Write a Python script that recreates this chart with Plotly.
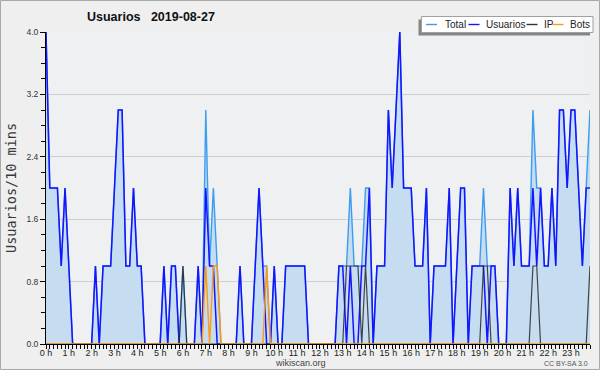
import plotly.graph_objects as go

# 10-minute slots of 2019-08-27 (144 values each)
usuarios = [4,2,2,2,1,2,1,0,0,0,0,0,
            0,1,0,1,1,1,2,3,3,1,1,2,
            1,1,0,0,0,0,0,1,0,1,1,0,
            0,0,0,0,1,0,2,1,1,0,0,0,
            0,0,0,1,0,0,0,1,2,1,0,0,
            1,0,0,1,1,1,1,1,1,0,0,0,
            0,0,0,0,0,1,1,0,1,0,0,1,
            1,2,0,1,1,1,3,2,3,4,2,2,
            2,1,1,1,2,0,1,1,1,1,2,0,
            1,2,2,0,1,1,1,1,0,1,1,0,
            0,0,2,1,2,1,1,1,2,1,2,1,
            1,2,1,3,3,2,3,3,2,1,2,2]

total = [4,2,2,2,1,2,1,0,0,0,0,0,
         0,1,0,1,1,1,2,3,3,1,1,2,
         1,1,0,0,0,0,0,1,0,1,1,0,
         1,0,0,0,1,0,3,1,2,1,0,0,
         0,0,0,1,0,0,0,1,2,1,1,0,
         1,0,0,1,1,1,1,1,1,0,0,0,
         0,0,0,0,0,1,1,1,2,1,1,1,
         2,2,0,1,1,1,3,2,3,4,2,2,
         2,1,1,1,2,0,1,1,1,1,2,0,
         1,2,2,0,1,1,1,2,1,1,1,0,
         0,0,2,1,2,1,1,1,3,2,2,1,
         1,2,1,3,3,2,3,3,2,1,2,3]

ip = [0,0,0,0,0,0,0,0,0,0,0,0,
      0,0,0,0,0,0,0,0,0,0,0,0,
      0,0,0,0,0,0,0,0,0,0,0,0,
      1,0,0,0,0,0,0,0,0,0,0,0,
      0,0,0,0,0,0,0,0,0,0,0,0,
      0,0,0,0,0,0,0,0,0,0,0,0,
      0,0,0,0,0,0,0,1,1,1,1,0,
      1,0,0,0,0,0,0,0,0,0,0,0,
      0,0,0,0,0,0,0,0,0,0,0,0,
      0,0,0,0,0,0,0,1,1,0,0,0,
      0,0,0,0,0,0,0,0,1,1,0,0,
      0,0,0,0,0,0,0,0,0,0,0,1]

bots = [0,0,0,0,0,0,0,0,0,0,0,0,
        0,0,0,0,0,0,0,0,0,0,0,0,
        0,0,0,0,0,0,0,0,0,0,0,0,
        0,0,0,0,0,0,1,0,1,1,0,0,
        0,0,0,0,0,0,0,0,0,0,1,0,
        0,0,0,0,0,0,0,0,0,0,0,0,
        0,0,0,0,0,0,0,0,0,0,0,0,
        0,0,0,0,0,0,0,0,0,0,0,0,
        0,0,0,0,0,0,0,0,0,0,0,0,
        0,0,0,0,0,0,0,0,0,0,0,0,
        0,0,0,0,0,0,0,0,0,0,0,0,
        0,0,0,0,0,0,0,0,0,0,0,0]

minutes = [10 * k for k in range(len(usuarios))]
hour_ticks = [60 * h for h in range(24)]
hour_labels = [f"{h} h" for h in range(24)]
y_ticks = [0.0, 0.8, 1.6, 2.4, 3.2, 4.0]

C_TOTAL = "#3d9cf0"
C_USR = "#1414ff"
C_IP = "rgba(40,40,40,0.85)"
C_BOTS = "#ff9a10"
FONT = "Liberation Sans, Arial, sans-serif"

W, H = 600, 370
ML, MR, MT, MB = 46, 10, 32, 26
PW, PH = W - ML - MR, H - MT - MB


def px(x):
    return (x - ML) / PW


def py(y):
    return (H - MB - y) / PH


fig = go.Figure()
fig.add_trace(go.Scatter(x=minutes, y=total, name="Total", mode="lines",
                         line=dict(color=C_TOTAL, width=1.4),
                         fill="tozeroy", fillcolor="#c6ddf1"))
fig.add_trace(go.Scatter(x=minutes, y=usuarios, name="Usuarios", mode="lines",
                         line=dict(color=C_USR, width=1.5)))
fig.add_trace(go.Scatter(x=minutes, y=ip, name="IP", mode="lines",
                         line=dict(color=C_IP, width=1.2)))
fig.add_trace(go.Scatter(x=minutes, y=bots, name="Bots", mode="lines",
                         line=dict(color=C_BOTS, width=1.4)))

shapes = []
annotations = []

# outer border
shapes.append(dict(type="rect", xref="paper", yref="paper",
                   x0=px(0.5), x1=px(599.5), y0=py(0.5), y1=py(369.5),
                   line=dict(color="#a8a8a8", width=1), layer="above"))

# manual legend box with shadow
lx0, lx1, ly0, ly1 = 421.5, 593, 16.5, 32.5
shapes.append(dict(type="rect", xref="paper", yref="paper",
                   x0=px(lx0 - 3), x1=px(lx1 - 3), y0=py(ly0 + 3), y1=py(ly1 + 3),
                   fillcolor="#858585", line=dict(width=0), layer="above"))
shapes.append(dict(type="rect", xref="paper", yref="paper",
                   x0=px(lx0), x1=px(lx1), y0=py(ly0), y1=py(ly1),
                   fillcolor="#ffffff", line=dict(color="#a0a0a0", width=1), layer="above"))
legend_items = [("Total", C_TOTAL, 426, 442.5), ("Usuarios", C_USR, 468.5, 484),
                ("IP", "#333333", 526.5, 541.5), ("Bots", C_BOTS, 552.5, 568)]
for name, col, lx, tx in legend_items:
    shapes.append(dict(type="line", xref="paper", yref="paper",
                       x0=px(lx), x1=px(lx + 11), y0=py(24.5), y1=py(24.5),
                       line=dict(color=col, width=1.4), layer="above"))
    annotations.append(dict(text=name, xref="paper", yref="paper",
                            x=px(tx), y=py(24.8), xanchor="left", yanchor="middle",
                            showarrow=False, font=dict(family=FONT, size=10, color="#222222")))

# title
annotations.append(dict(text="<b>Usuarios\u00a0\u00a0 2019-08-27</b>", xref="paper", yref="paper",
                        x=px(85), y=py(17), xanchor="left", yanchor="middle", showarrow=False,
                        font=dict(family=FONT, size=12.5, color="#111111")))
# y-axis title
annotations.append(dict(text="Usuarios/10 mins", xref="paper", yref="paper",
                        x=px(11), y=py(188), xanchor="center", yanchor="middle",
                        textangle=-90, showarrow=False,
                        font=dict(family="DejaVu Sans Mono, Liberation Mono, monospace",
                                  size=13.5, color="#3a3a3a")))
# footer
annotations.append(dict(text="wikiscan.org", xref="paper", yref="paper",
                        x=px(300), y=py(363), xanchor="center", yanchor="middle",
                        showarrow=False, font=dict(family=FONT, size=9, color="#444444")))
annotations.append(dict(text="CC BY-SA 3.0", xref="paper", yref="paper",
                        x=px(590), y=py(363.5), xanchor="right", yanchor="middle",
                        showarrow=False, font=dict(family=FONT, size=7, color="#555555")))

fig.update_layout(
    width=W, height=H, autosize=False,
    margin=dict(l=ML, r=MR, t=MT, b=MB, pad=0),
    paper_bgcolor="#efefef", plot_bgcolor="#eef0f2",
    showlegend=False,
    shapes=shapes, annotations=annotations,
    xaxis=dict(range=[0, minutes[-1]], tickvals=hour_ticks, ticktext=hour_labels,
               ticks="outside", ticklen=4, tickwidth=1, tickcolor="#000000",
               minor=dict(dtick=10, tick0=0, ticks="outside", ticklen=4, tickcolor="#000000", showgrid=False),
               showline=True, linecolor="#000000", linewidth=1,
               showgrid=False, zeroline=False, ticklabelstandoff=-4,
               tickfont=dict(family=FONT, size=9, color="#222222")),
    yaxis=dict(range=[0, 4], tickvals=y_ticks, tickformat=".1f",
               ticks="outside", ticklen=5, tickwidth=1, tickcolor="#000000",
               minor=dict(dtick=0.2, tick0=0, ticks="outside", ticklen=4, tickcolor="#000000", showgrid=False),
               showline=True, linecolor="#000000", linewidth=1,
               showgrid=True, gridcolor="#cfcfcf", gridwidth=1, zeroline=False,
               tickfont=dict(family=FONT, size=8.5, color="#333333")),
)

fig.write_html("out.html", config={"displayModeBar": False},
               post_script="document.body.style.margin='0';document.body.style.padding='0';")
